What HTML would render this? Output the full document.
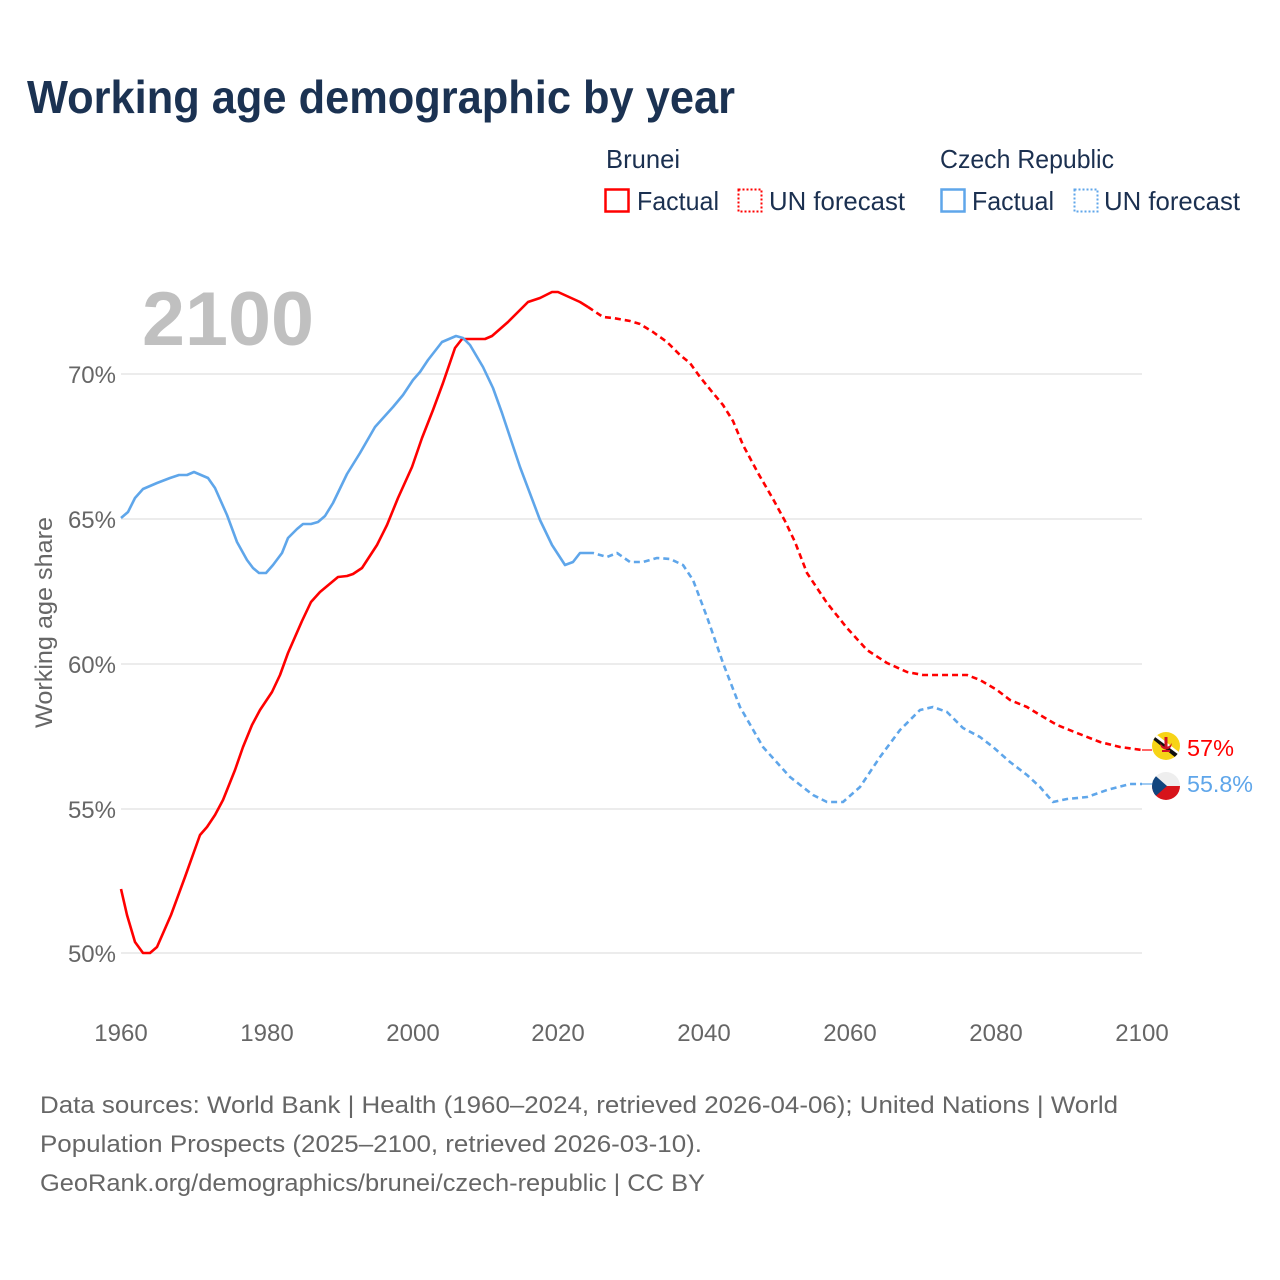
<!DOCTYPE html>
<html>
<head>
<meta charset="utf-8">
<style>
html,body{margin:0;padding:0;background:#fff;}
svg{display:block;}
text{font-family:"Liberation Sans",sans-serif;}
</style>
</head>
<body>
<svg width="1280" height="1280" viewBox="0 0 1280 1280" xmlns="http://www.w3.org/2000/svg">
<rect width="1280" height="1280" fill="#fff"/>

<!-- Title -->
<text x="27" y="113" font-size="46" font-weight="bold" fill="#1b3252" textLength="708" lengthAdjust="spacingAndGlyphs">Working age demographic by year</text>

<!-- Legend -->
<text x="606" y="168" font-size="26" fill="#1b3050" textLength="74" lengthAdjust="spacingAndGlyphs">Brunei</text>
<text x="940" y="168" font-size="26" fill="#1b3050" textLength="174" lengthAdjust="spacingAndGlyphs">Czech Republic</text>

<rect x="605.5" y="189.5" width="23" height="22" fill="none" stroke="#ff0000" stroke-width="2.5"/>
<text x="637" y="210" font-size="26" fill="#1b3050" textLength="82" lengthAdjust="spacingAndGlyphs">Factual</text>
<rect x="738.5" y="189.5" width="23" height="22" fill="none" stroke="#ff0000" stroke-width="2" stroke-dasharray="2,2"/>
<text x="769" y="210" font-size="26" fill="#1b3050" textLength="136" lengthAdjust="spacingAndGlyphs">UN forecast</text>

<rect x="941.5" y="189.5" width="23" height="22" fill="none" stroke="#5fa6ea" stroke-width="2.5"/>
<text x="972" y="210" font-size="26" fill="#1b3050" textLength="82" lengthAdjust="spacingAndGlyphs">Factual</text>
<rect x="1074.5" y="189.5" width="23" height="22" fill="none" stroke="#5fa6ea" stroke-width="2" stroke-dasharray="2,2"/>
<text x="1104" y="210" font-size="26" fill="#1b3050" textLength="136" lengthAdjust="spacingAndGlyphs">UN forecast</text>

<!-- Gridlines -->
<g stroke="#e6e6e6" stroke-width="1.5">
<line x1="121" y1="374" x2="1142" y2="374"/>
<line x1="121" y1="519" x2="1142" y2="519"/>
<line x1="121" y1="664" x2="1142" y2="664"/>
<line x1="121" y1="809" x2="1142" y2="809"/>
<line x1="121" y1="953" x2="1142" y2="953"/>
</g>

<!-- Big year -->
<text x="142" y="345" font-size="76" font-weight="bold" fill="#c0c0c0" textLength="172" lengthAdjust="spacingAndGlyphs">2100</text>

<!-- Y labels -->
<g font-size="24" fill="#666" text-anchor="end">
<text x="116" y="383">70%</text>
<text x="116" y="528">65%</text>
<text x="116" y="673">60%</text>
<text x="116" y="818">55%</text>
<text x="116" y="962">50%</text>
</g>
<text transform="translate(52,728) rotate(-90)" font-size="24" fill="#666" textLength="211" lengthAdjust="spacingAndGlyphs">Working age share</text>

<!-- X labels -->
<g font-size="24" fill="#666" text-anchor="middle">
<text x="121" y="1041">1960</text>
<text x="267" y="1041">1980</text>
<text x="413" y="1041">2000</text>
<text x="558" y="1041">2020</text>
<text x="704" y="1041">2040</text>
<text x="850" y="1041">2060</text>
<text x="996" y="1041">2080</text>
<text x="1142" y="1041">2100</text>
</g>

<!-- Series -->
<g fill="none" stroke-width="2.6" stroke-linejoin="round" stroke-linecap="butt">
<polyline stroke="#ff0000" points="121,889 127,915 135,942 143,953 150,953 157,947 171,915 185,877 200,835 207,827 215,815 223,800 235,770 243,747 252,725 260,710 272,692 280,675 288,653 302,621 311,602 320,592 338,577 347,576 353,574 362,568 377,545 387,525 398,498 412,467 422,438 433,410 443,383 455,348 462,339 485,339 492,336 500,329 508,322 520,310 528,302 540,298 552,292 558,292 580,302 588,307"/>
<polyline stroke="#ff0000" stroke-dasharray="6,4" points="588,307 603,317 613,318 630,321 640,324 653,332 667,342 680,355 690,363 700,377 713,393 723,405 733,421 743,445 758,473 773,499 785,521 795,542 807,573 827,603 847,628 867,650 887,663 907,672 923,675 967,675 980,680 997,690 1010,700 1027,707 1040,715 1057,725 1077,733 1100,742 1120,747 1142,750"/>
<polyline stroke="#5fa6ea" points="121,518 128,512 135,498 143,489 157,483 170,478 179,475 187,475 194,472 208,478 215,488 227,515 237,542 247,560 253,568 259,573 266,573 273,565 282,553 288,538 297,529 303,524 311,524 318,522 325,516 333,503 347,474 360,453 375,427 393,407 403,395 413,380 420,372 428,360 442,342 456,336 463,338 470,345 483,367 493,388 502,413 520,467 540,520 552,545 565,565 573,562 580,553 588,553"/>
<polyline stroke="#5fa6ea" stroke-dasharray="6,4" points="588,553 593,553 607,557 617,553 630,562 643,562 657,558 670,559 683,565 693,580 707,617 723,663 740,707 763,747 790,777 813,795 827,802 843,802 860,787 880,757 900,730 920,710 933,707 947,712 963,728 980,737 993,747 1010,762 1027,775 1040,787 1053,802 1067,799 1087,797 1107,790 1130,784 1142,784"/>
</g>
<!-- connectors -->
<line x1="1142" y1="750" x2="1152" y2="750" stroke="#ff0000" stroke-width="1.2"/>
<line x1="1142" y1="784" x2="1152" y2="784" stroke="#5fa6ea" stroke-width="1.2"/>

<!-- Flags -->
<defs>
<clipPath id="cb"><circle cx="1166" cy="746" r="14"/></clipPath>
<clipPath id="cc"><circle cx="1166" cy="786" r="14"/></clipPath>
</defs>
<g clip-path="url(#cb)">
<rect x="1150" y="730" width="32" height="32" fill="#f7d417"/>
<polygon points="1150,733 1152,731 1184,756 1182,760" fill="#ffffff"/>
<polygon points="1150,737 1151,734 1183,758 1181,762" fill="#111"/>
<path d="M1160,743 q6,8 12,0 l-1,4 q-5,5 -10,0 z" fill="#ce1126"/>
<rect x="1164.5" y="737" width="3" height="12" fill="#ce1126"/>
<rect x="1162" y="750" width="8" height="2" fill="#ce1126"/>
</g>
<g clip-path="url(#cc)">
<rect x="1150" y="770" width="32" height="16" fill="#eeeeee"/>
<rect x="1150" y="786" width="32" height="16" fill="#d7141a"/>
<polygon points="1150,771 1167,786 1150,801" fill="#11457e"/>
</g>

<text x="1187" y="756" font-size="23" fill="#ff0000" textLength="47" lengthAdjust="spacingAndGlyphs">57%</text>
<text x="1187" y="792" font-size="23" fill="#5fa6ea" textLength="66" lengthAdjust="spacingAndGlyphs">55.8%</text>

<!-- Footer -->
<g font-size="24" fill="#666">
<text x="40" y="1113" textLength="1078" lengthAdjust="spacingAndGlyphs">Data sources: World Bank | Health (1960–2024, retrieved 2026-04-06); United Nations | World</text>
<text x="40" y="1152" textLength="662" lengthAdjust="spacingAndGlyphs">Population Prospects (2025–2100, retrieved 2026-03-10).</text>
<text x="40" y="1191" textLength="665" lengthAdjust="spacingAndGlyphs">GeoRank.org/demographics/brunei/czech-republic | CC BY</text>
</g>
</svg>
</body>
</html>
